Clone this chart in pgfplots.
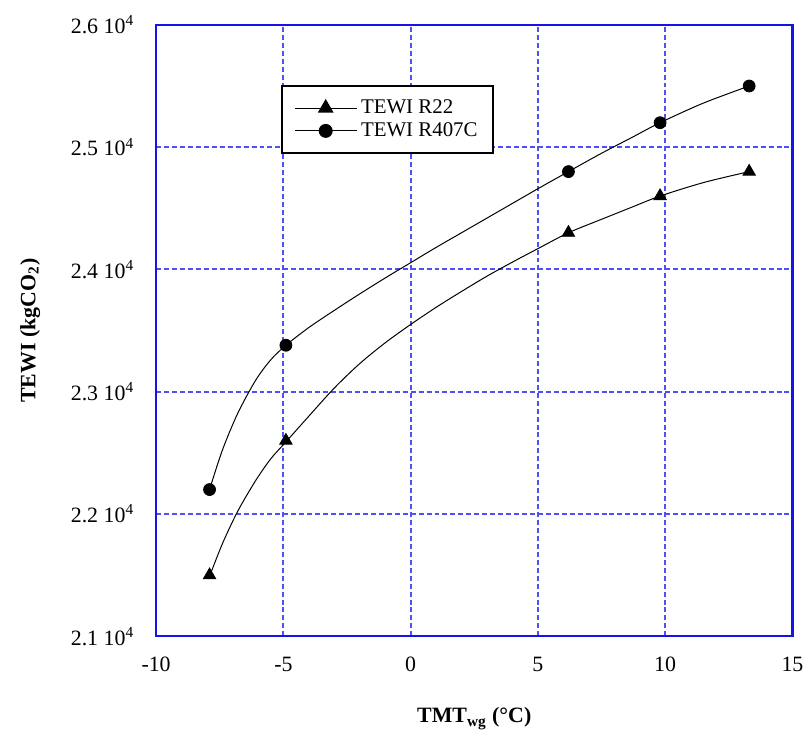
\documentclass[border=0pt]{standalone}
\usepackage{pgfplots}
\pgfplotsset{compat=1.18}
\usepackage{fontspec}
\setmainfont{Liberation Serif}
\definecolor{gridblue}{RGB}{80,80,250}
\definecolor{frameblue}{RGB}{20,20,230}
\begin{document}
\begin{tikzpicture}
\begin{axis}[name=ax,
  scale only axis, width=320pt, height=307.5pt,
  xmin=-10, xmax=15, ymin=21000, ymax=26000,
  xtick={-10,-5,0,5,10,15}, xticklabels={-10,-5,0,5,10,15},
  ytick={21000,22000,23000,24000,25000,26000},
  yticklabels={2.1 10\textsuperscript{4},2.2 10\textsuperscript{4},2.3 10\textsuperscript{4},2.4 10\textsuperscript{4},2.5 10\textsuperscript{4},2.6 10\textsuperscript{4}},
  scaled y ticks=false,
  xmajorgrids, ymajorgrids,
  every axis grid/.style={draw=gridblue, dash pattern=on 2.5pt off 1.5pt, line width=1pt},
  axis line style={draw=frameblue, line width=1.1pt},
  tick style={draw=none},
  tick label style={font=\fontsize{11}{13}\selectfont},
  xticklabel style={yshift=-7pt},
  yticklabel style={xshift=-7.5pt},
  xlabel={\textbf{TMT\textsubscript{wg} (°C)}},
  ylabel={\textbf{TEWI (kgCO\textsubscript{2})}},
  label style={font=\fontsize{11}{13}\selectfont},
  xlabel style={yshift=-11pt},
  ylabel style={yshift=8.5pt},
  legend style={at={(0.197,0.902)}, anchor=north west, draw=black, line width=1pt,
    font=\fontsize{10.5}{12}\selectfont, inner xsep=6pt, inner ysep=5pt, row sep=-1pt},
  legend cell align=left,
  legend image code/.code={%
    \draw[black, line width=0.5pt] (0pt,0pt) -- (31pt,0pt);
    \draw[mark repeat=2, mark phase=2] plot coordinates {(0pt,0pt) (15.5pt,0pt) (31pt,0pt)};},
]
% fitted curves
\addplot[black, line width=0.5pt, smooth, forget plot]
  coordinates {(-7.9,21490) (-7.4,21755) (-6.8,22020) (-6.1,22270) (-5.5,22450) (-4.9,22590)
  (-4.0,22800) (-3.0,23030) (-2.0,23230) (-1.0,23400) (0,23550) (1.0,23690) (2.0,23820)
  (3.0,23945) (4.0,24060) (5.0,24170) (6.2,24300) (7.5,24410) (8.7,24510) (9.8,24600)
  (11.5,24710) (13.3,24800)};
\addplot[black, line width=0.5pt, smooth, forget plot]
  coordinates {(-7.9,22200) (-7.4,22520) (-6.8,22820) (-6.1,23090) (-5.5,23260) (-4.9,23380)
  (-4.0,23525) (-3.0,23665) (-2.0,23800) (-1.0,23930) (0,24055) (1.0,24180) (2.0,24300)
  (3.0,24420) (4.0,24540) (5.0,24660) (6.2,24800) (7.5,24950) (8.7,25080) (9.8,25200)
  (11.5,25360) (13.3,25500)};
% data points
\addplot[black, only marks, mark=triangle*, mark size=3.6pt]
  coordinates {(-7.9,21500) (-4.9,22600) (6.2,24300) (9.8,24600) (13.3,24800)};
\addlegendentry{TEWI R22}
\addplot[black, only marks, mark=*, mark size=3pt]
  coordinates {(-7.9,22200) (-4.9,23380) (6.2,24800) (9.8,25200) (13.3,25500)};
\addlegendentry{TEWI R407C}
\end{axis}
\path ([xshift=-78.5pt,yshift=-50pt]ax.south west) rectangle ([xshift=6.5pt,yshift=12.5pt]ax.north east);
\end{tikzpicture}
\end{document}
